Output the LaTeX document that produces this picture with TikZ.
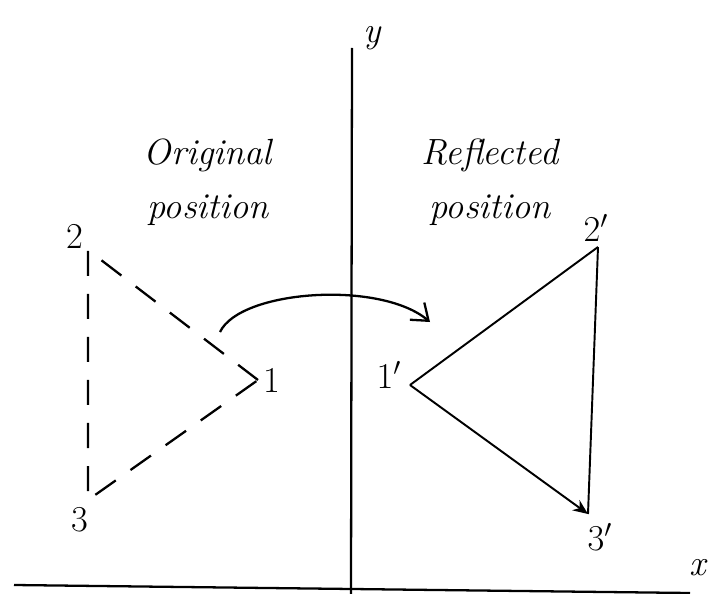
\documentclass[tikz,border=0pt]{standalone}
\usepackage{tikz}
\usetikzlibrary{arrows.meta, positioning}
\tikzset{
    axisline/.style={line width=1.3pt, black},
    oldedge/.style={line width=1.3pt, dash pattern=on 5mm off 3.6mm},
    newedge/.style={line width=1.1pt, black},
    ptlabel/.style={font=\huge, inner sep=1pt},
    poslabel/.style={font=\huge\itshape, align=center, inner sep=0pt},
    movearrow/.style={-{Straight Barb[length=3mm, width=4.5mm]}, line width=1.3pt}
}

\begin{document}
\begin{tikzpicture}[x=0.2mm, y=-0.2mm]
\useasboundingbox (0,0) rectangle (708,594);

% axes
\coordinate (ytop) at (352,48);
\coordinate (ybot) at (351,594);
\coordinate (xleft) at (14,585);
\coordinate (xright) at (690,593);
\draw[axisline] (ytop) -- (ybot);
\draw[axisline] (xleft) -- (xright);
\node[ptlabel, font=\huge\itshape] (ylab) at (372,38) {y};
\node[ptlabel, font=\huge\itshape] (xlab) at (698,568) {x};

% original triangle
\coordinate (p1) at (258,380);
\coordinate (p2) at (88,250);
\coordinate (p3) at (88,500);
\draw[oldedge] (p1) -- (p2) -- (p3) -- cycle;
\node[ptlabel] (l1) at (272,380) {1};
\node[ptlabel] (l2) at (75,236) {2};
\node[ptlabel] (l3) at (80,520) {3};

% reflected triangle
\coordinate (q1) at (410,385);
\coordinate (q2) at (598,247);
\coordinate (q3) at (588,514);
\draw[newedge] (q2) -- (q1);
\draw[newedge, -{Stealth[length=3mm, width=2.5mm]}] (q1) -- (q3);
\draw[newedge] (q2) -- (q3);
\node[ptlabel] (m1) at (389,375) {$1'$};
\node[ptlabel] (m2) at (596,228) {$2'$};
\node[ptlabel] (m3) at (600,537) {$3'$};

% captions
\node[poslabel] (orig) at (208,182) {Original\\[2mm]position};
\node[poslabel] (refl) at (490,182) {Reflected\\[2mm]position};

% reflection arrow
\coordinate (a0) at (220,332);
\coordinate (a1) at (430,322);
\draw[movearrow] (a0) .. controls (240,290) and (380,280) .. (a1);

\end{tikzpicture}
\end{document}
